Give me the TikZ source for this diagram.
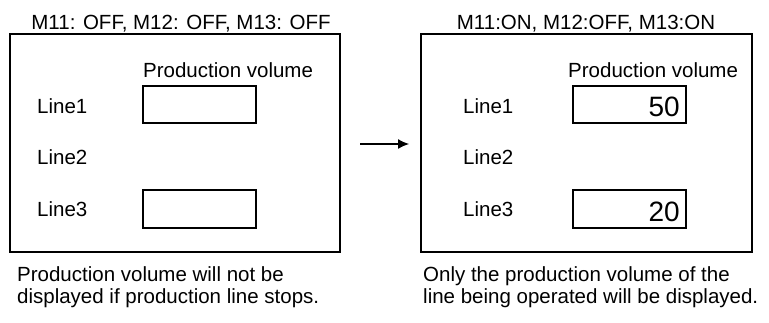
\documentclass[tikz,border=0pt]{standalone}
\usepackage{fontspec}
\setmainfont{Liberation Sans}
\usetikzlibrary{arrows.meta}
\begin{document}
\begin{tikzpicture}[x=1pt,y=-1pt,
  txt/.style={inner sep=0pt,anchor=base west,font=\fontsize{20.5}{22}\selectfont},
  ttl/.style={inner sep=0pt,anchor=base,font=\fontsize{20.5}{22}\selectfont},
  num/.style={inner sep=0pt,anchor=base east,font=\fontsize{28}{30}\selectfont},
  outer/.style={draw,line width=1.4pt},
  field/.style={draw,line width=1.2pt}]
\useasboundingbox (0,0) rectangle (769,322);
% left panel
\node[ttl] (t1) at (181,29) {M11: OFF, M12: OFF, M13: OFF};
\draw[outer] (10,34) rectangle (340,252);
\node[txt] (pv1) at (143,77) {Production volume};
\node[txt] (a1) at (37,113) {Line1};
\node[txt] (a2) at (37,164) {Line2};
\node[txt] (a3) at (37,216) {Line3};
\draw[field] (143,86) rectangle (256,123);
\draw[field] (143,190) rectangle (256,228);
\node[txt] (c1) at (17,281) {Production volume will not be};
\node[txt] (c2) at (17,303) {displayed if production line stops.};
% arrow
\coordinate (as) at (360,144);
\coordinate (ae) at (409,144);
\draw[line width=1.1pt,-{Latex[length=11pt,width=10pt]}] (as) -- (ae);
% right panel
\node[ttl] (t2) at (586,29) {M11:ON, M12:OFF, M13:ON};
\draw[outer] (421,34) rectangle (752,252);
\node[txt] (pv2) at (568,77) {Production volume};
\node[txt] (b1) at (463,113) {Line1};
\node[txt] (b2) at (463,164) {Line2};
\node[txt] (b3) at (463,216) {Line3};
\draw[field] (573,86) rectangle (686,123);
\draw[field] (573,190) rectangle (686,228);
\node[num] (v1) at (680,116) {50};
\node[num] (v2) at (680,221) {20};
\node[txt] (d1) at (423,281) {Only the production volume of the};
\node[txt] (d2) at (423,303) {line being operated will be displayed.};
\end{tikzpicture}
\end{document}
